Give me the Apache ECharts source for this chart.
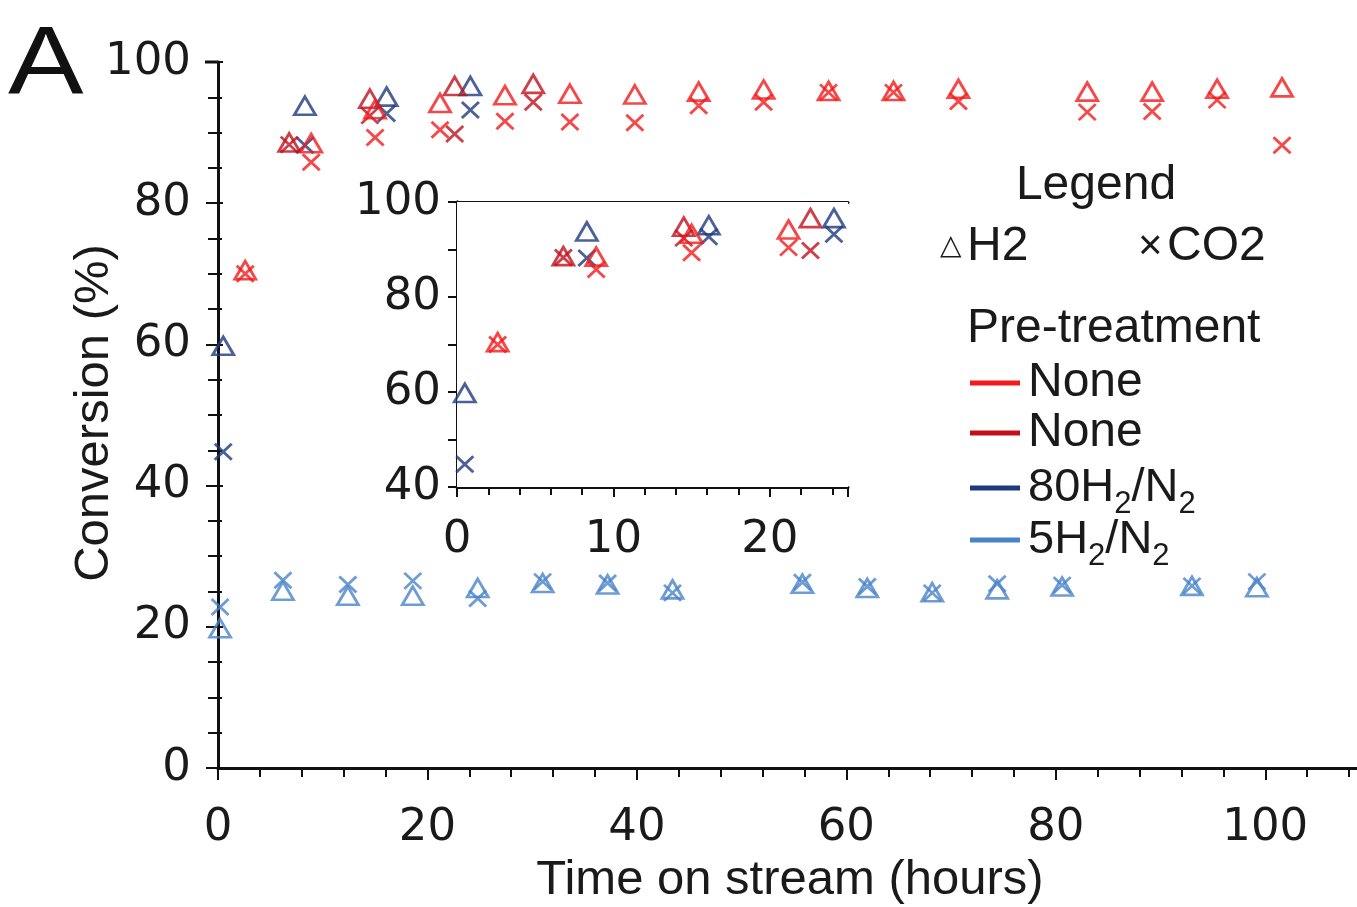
<!DOCTYPE html>
<html>
<head>
<meta charset="utf-8">
<script src="https://cdn.jsdelivr.net/npm/echarts@6/dist/echarts.min.js"></script>
<style>
  html, body { margin: 0; padding: 0; background: #fff; }
  #chart { width: 1357px; height: 907px; }
</style>
</head>
<body>
<div id="chart"></div>
<script>
// conversion vs time on stream, main plot + 0-25 h inset
var FONT = '"Liberation Sans", Arial, sans-serif';
var NUMFONT = '"DejaVu Sans", "Liberation Sans", sans-serif';
var C_RED = '#f21a1a', C_DRED = '#c0101c', C_NAVY = '#1f3a7c', C_LBLUE = '#4a84c8';

// Pre-treatment: None (long run)
var noneA_time = [2.6, 8.9, 15.0, 21.2, 27.4, 33.6, 39.8, 45.9, 52.1, 58.3, 64.5, 70.7, 83.0, 89.2, 95.4, 101.6];
var noneA_h2   = [70.5, 88.5, 93.3, 94.2, 95.3, 95.5, 95.4, 95.8, 96.1, 95.9, 95.9, 96.2, 95.8, 95.8, 96.2, 96.4];
var noneA_co2  = [70.0, 85.8, 89.3, 90.4, 91.6, 91.5, 91.4, 93.8, 94.3, 95.7, 95.7, 94.4, 92.9, 93.0, 94.6, 88.2];

// Pre-treatment: None (short run)
var noneB_time = [6.8, 14.5, 22.6, 30.1];
var noneB_h2   = [88.6, 94.8, 96.6, 96.9];
var noneB_co2  = [88.3, 92.4, 89.8, 94.3];

// Pre-treatment: 80H2/N2
var h80_time = [0.5, 8.3, 16.1, 24.1];
var h80_h2   = [59.8, 93.8, 95.1, 96.6];
var h80_co2  = [44.8, 88.2, 92.7, 93.2];

// Pre-treatment: 5H2/N2
var h5_time = [0.2, 6.2, 12.4, 18.6, 24.8, 31.0, 37.2, 43.4, 55.8, 62.0, 68.2, 74.4, 80.6, 93.0, 99.2];
var h5_h2   = [19.8, 25.1, 24.4, 24.4, 25.5, 26.2, 26.0, 25.3, 26.1, 25.5, 24.9, 25.3, 25.7, 25.8, 25.6];
var h5_co2  = [22.8, 26.6, 26.0, 26.5, 24.0, 26.4, 26.2, 24.8, 26.3, 25.7, 24.8, 26.1, 25.9, 25.8, 26.4];

var mainXTicks = [0, 20, 40, 60, 80, 100];
var mainYTicks = [0, 20, 40, 60, 80, 100];
var insetXTicks = [0, 10, 20];
var insetYTicks = [40, 60, 80, 100];

var CROSS = 'path://M0,0L10,10M10,0L0,10';

function pairs(t, v) {
  return t.map(function (x, i) { return [x, v[i]]; });
}

function marks(name, color, t, v, kind, axisIdx) {
  var s = {
    name: name,
    type: 'scatter',
    xAxisIndex: axisIdx,
    yAxisIndex: axisIdx,
    clip: true,
    silent: true,
    itemStyle: { color: 'rgba(0,0,0,0)', borderColor: color, borderWidth: 2.8 },
    data: pairs(t, v)
  };
  if (kind === 'tri') {
    s.symbol = 'triangle';
    s.symbolSize = [21, 18];
  } else {
    s.symbol = CROSS;
    s.symbolSize = [17, 16];
  }
  return s;
}

function groupSeries(axisIdx) {
  return [
    marks('5H2/N2 H2', C_LBLUE, h5_time, h5_h2, 'tri', axisIdx),
    marks('5H2/N2 CO2', C_LBLUE, h5_time, h5_co2, 'x', axisIdx),
    marks('80H2/N2 H2', C_NAVY, h80_time, h80_h2, 'tri', axisIdx),
    marks('80H2/N2 CO2', C_NAVY, h80_time, h80_co2, 'x', axisIdx),
    marks('None B H2', C_DRED, noneB_time, noneB_h2, 'tri', axisIdx),
    marks('None B CO2', C_DRED, noneB_time, noneB_co2, 'x', axisIdx),
    marks('None A H2', C_RED, noneA_time, noneA_h2, 'tri', axisIdx),
    marks('None A CO2', C_RED, noneA_time, noneA_co2, 'x', axisIdx)
  ];
}

var lbl = { color: '#1a1a1a', fontFamily: NUMFONT, fontSize: 45 };
var axLine = { show: true, lineStyle: { color: '#111', width: 3 } };
var tickStyle = { color: '#111', width: 2 };

function lineOnly(pos, gridIndex, min, max) {
  return {
    type: 'value', gridIndex: gridIndex, position: pos, min: min, max: max,
    axisLine: axLine, axisTick: { show: false }, axisLabel: { show: false },
    splitLine: { show: false }
  };
}

function pick(list) {
  return function (v) { return list.indexOf(v) >= 0 ? String(v) : ''; };
}

function txt(x, y, s, align, size) {
  return { type: 'text', x: x, y: y, z: 10,
    style: { text: s, fill: '#1a1a1a', font: (size || 48) + 'px ' + FONT, align: align || 'left', verticalAlign: 'middle' } };
}

function subText(x, y, head, mid) {
  return { type: 'text', x: x, y: y, z: 10,
    style: { text: '{n|' + head + '}{s|2}{n|' + mid + '}{s|2}', align: 'left', verticalAlign: 'top',
      rich: { n: { fontSize: 47, lineHeight: 47, verticalAlign: 'top', fontFamily: FONT, fill: '#1a1a1a' },
              s: { fontSize: 31, lineHeight: 31, verticalAlign: 'top', padding: [24, 0, 0, 0], fontFamily: FONT, fill: '#1a1a1a' } } } };
}

var chart = echarts.init(document.getElementById('chart'));

var option = {
  animation: false,
  backgroundColor: '#fff',
  grid: [
    { left: 218, top: 62, width: 1152, height: 706, outerBoundsMode: 'none', containLabel: false },
    { left: 457, top: 202, width: 391, height: 285, outerBoundsMode: 'none', containLabel: false,
      show: true, backgroundColor: '#fff', borderWidth: 0, z: 3 }
  ],
  xAxis: [
    {
      type: 'value', gridIndex: 0, position: 'bottom', min: 0, max: 110, interval: 20,
      axisLine: axLine,
      axisTick: { show: true, length: 12, lineStyle: tickStyle },
      minorTick: { show: true, splitNumber: 5, length: 9, lineStyle: tickStyle },
      axisLabel: Object.assign({ margin: 38, formatter: pick(mainXTicks) }, lbl),
      splitLine: { show: false }
    },
    lineOnly('top', 0, 0, 110),
    {
      type: 'value', gridIndex: 1, position: 'bottom', min: 0, max: 25, interval: 10,
      axisLine: axLine,
      axisTick: { show: true, length: 10, lineStyle: tickStyle },
      minorTick: { show: true, splitNumber: 5, length: 8, lineStyle: tickStyle },
      axisLabel: Object.assign({ margin: 31, formatter: pick(insetXTicks) }, lbl),
      splitLine: { show: false }
    },
    lineOnly('top', 1, 0, 25)
  ],
  yAxis: [
    {
      type: 'value', gridIndex: 0, position: 'left', min: 0, max: 100, interval: 20,
      axisLine: axLine,
      axisTick: { show: true, length: 12, lineStyle: tickStyle },
      minorTick: { show: true, splitNumber: 4, length: 10, lineStyle: tickStyle },
      axisLabel: Object.assign({ margin: 27, formatter: pick(mainYTicks) }, lbl),
      splitLine: { show: false }
    },
    {
      type: 'value', gridIndex: 0, position: 'left', min: 0, max: 100, interval: 20,
      axisLine: { show: false },
      axisTick: { show: true, inside: true, length: 5, lineStyle: tickStyle },
      minorTick: { show: true, splitNumber: 4, length: 4, lineStyle: tickStyle },
      axisLabel: { show: false },
      splitLine: { show: false }
    },
    {
      type: 'value', gridIndex: 1, position: 'left', min: 40, max: 100, interval: 20,
      axisLine: axLine,
      axisTick: { show: true, length: 9, lineStyle: tickStyle },
      minorTick: { show: true, splitNumber: 2, length: 9, lineStyle: tickStyle },
      axisLabel: Object.assign({ margin: 16, formatter: pick(insetYTicks) }, lbl),
      splitLine: { show: false }
    },
    lineOnly('right', 1, 40, 100)
  ],
  series: groupSeries(0).concat(groupSeries(2).map(function (s) { s.z = 4; return s; })),
  graphic: [
    { type: 'line', z: 1, shape: { x1: 205, y1: 62, x2: 218, y2: 62 }, style: { stroke: '#111', lineWidth: 3 } },
    { type: 'text', x: 8, y: 19, scaleX: 1.18, z: 10,
      style: { text: 'A', fill: '#111', font: '96px ' + FONT, align: 'left', verticalAlign: 'top' } },
    { type: 'text', x: 94, y: 413, rotation: Math.PI / 2, z: 10,
      style: { text: 'Conversion (%)', fill: '#1a1a1a', font: '49px ' + FONT, align: 'center', verticalAlign: 'middle' } },
    txt(790, 880, 'Time on stream (hours)', 'center', 49),

    txt(1096, 186, 'Legend', 'center', 48),
    { type: 'text', x: 940, y: 247, z: 10,
      style: { text: '{s|\u25B3}{g| }{n|H2}', align: 'left', verticalAlign: 'middle',
        rich: { s: { fontSize: 28, fontFamily: '"DejaVu Sans", sans-serif', fill: '#1a1a1a' },
                g: { fontSize: 20, fontFamily: FONT },
                n: { fontSize: 48, fontFamily: FONT, fill: '#1a1a1a' } } } },
    { type: 'text', x: 1138, y: 247, z: 10,
      style: { text: '{s|\u00D7}{g| }{n|CO2}', align: 'left', verticalAlign: 'middle',
        rich: { s: { fontSize: 42, fontFamily: FONT, fill: '#1a1a1a' },
                g: { fontSize: 16, fontFamily: FONT },
                n: { fontSize: 48, fontFamily: FONT, fill: '#1a1a1a' } } } },
    txt(967, 329, 'Pre-treatment', 'left', 48),

    { type: 'line', z: 10, shape: { x1: 970, y1: 383, x2: 1020, y2: 383 }, style: { stroke: C_RED, lineWidth: 5 } },
    { type: 'line', z: 10, shape: { x1: 970, y1: 433, x2: 1020, y2: 433 }, style: { stroke: C_DRED, lineWidth: 5 } },
    { type: 'line', z: 10, shape: { x1: 970, y1: 488, x2: 1020, y2: 488 }, style: { stroke: C_NAVY, lineWidth: 5 } },
    { type: 'line', z: 10, shape: { x1: 970, y1: 540, x2: 1020, y2: 540 }, style: { stroke: C_LBLUE, lineWidth: 5 } },

    txt(1028, 383, 'None', 'left', 48),
    txt(1028, 433, 'None', 'left', 48),
    subText(1028, 465, '80H', '/N'),
    subText(1028, 517, '5H', '/N')
  ]
};

chart.setOption(option);
</script>
</body>
</html>
